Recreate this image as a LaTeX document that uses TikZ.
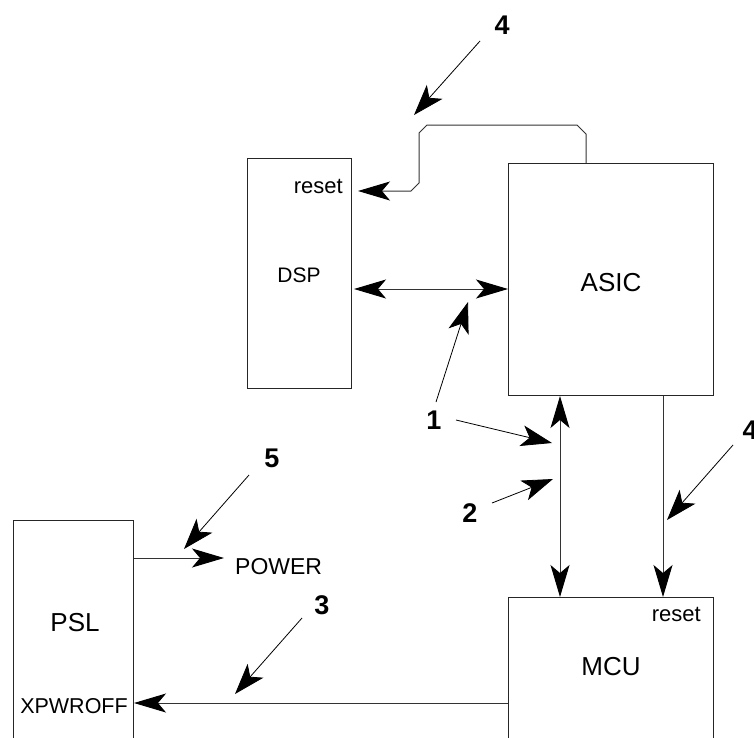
\documentclass[tikz,border=0pt]{standalone}
\usepackage{fontspec}
\setmainfont{Liberation Sans}
\usetikzlibrary{arrows.meta}
\tikzset{
  blk/.style={draw=black!85, line width=1pt, inner sep=0pt, anchor=north west},
  conn/.style={draw=black!80, line width=1pt},
  bigtip/.tip={Stealth[length=32pt,width=19pt,inset=8pt,color=black]},
  ptrtip/.tip={Stealth[length=31pt,width=21pt,inset=8pt,color=black]},
  ptr/.style={draw=black, line width=0.8pt, -ptrtip},
  num/.style={font=\fontsize{27}{27}\selectfont\bfseries, inner sep=0pt},
  lbl/.style={font=\fontsize{26}{26}\selectfont, inner sep=0pt},
  mid/.style={font=\fontsize{22}{22}\selectfont, inner sep=0pt},
}
\begin{document}
\begin{tikzpicture}[x=1pt,y=-1pt]
\clip (0,0) rectangle (754,737);
\fill[white] (0,0) rectangle (754,737);
% boxes
\node[blk, minimum width=104pt, minimum height=230pt] (dsp) at (247,158) {};
\node[blk, minimum width=205pt, minimum height=232pt] (asic) at (508,163) {};
\node[blk, minimum width=205pt, minimum height=180pt] (mcu) at (508,597) {};
\node[blk, minimum width=120pt, minimum height=260pt] (psl) at (13,520) {};
% texts in boxes
\node[mid, font=\fontsize{21}{21}\selectfont] (dsptxt) at (299,275) {DSP};
\node[mid, anchor=base east] (dspreset) at (343,193) {reset};
\node[lbl] (asictxt) at (611,283) {ASIC};
\node[lbl] (mcutxt) at (611,667) {MCU};
\node[mid, anchor=base east] (mcureset) at (701,621) {reset};
\node[lbl] (psltxt) at (75,623) {PSL};
\node[mid, font=\fontsize{21.5}{21.5}\selectfont] (xpw) at (74,706) {XPWROFF};
\node[mid, anchor=west, font=\fontsize{23}{23}\selectfont] (power) at (235,567) {POWER};
% connectors
\coordinate (dspR) at (354,289);
\draw[conn, bigtip-bigtip] (dspR) -- (asic.west |- dspR);
\coordinate (amx) at (560,0);
\draw[conn, bigtip-bigtip] (asic.south -| amx) -- (mcu.north -| amx);
\coordinate (rsx) at (663,0);
\draw[conn, -bigtip] (asic.south -| rsx) -- (mcu.north -| rsx);
\coordinate (topx) at (586,0);
\coordinate (rstend) at (358,191);
\draw[conn, -bigtip] (asic.north -| topx) -- (586,134) -- (577,125) -- (427,125)
  -- (419,133) -- (419,183) -- (411,191) -- (rstend);
\coordinate (pwy) at (0,558);
\coordinate (pwend) at (224,558);
\draw[conn, -bigtip] (psl.east |- pwy) -- (pwend);
\coordinate (xy) at (0,703);
\draw[conn, -bigtip] (mcu.west |- xy) -- (psl.east |- xy);
% labels and pointers
\node[num] (n4a) at (502,25) {4};
\coordinate (p4a) at (414,115);
\draw[ptr] (480,41) -- (p4a);
\node[num] (n1) at (434,420) {1};
\coordinate (p1a) at (468,302);
\coordinate (p1b) at (552,443);
\draw[ptr] (436,402) -- (p1a);
\draw[ptr] (456,420) -- (p1b);
\node[num] (n2) at (470,513) {2};
\coordinate (p2) at (553,479);
\draw[ptr] (492,503) -- (p2);
\node[num] (n4b) at (750,430) {4};
\coordinate (p4b) at (667,520);
\draw[ptr] (733,445) -- (p4b);
\node[num] (n5) at (272,458) {5};
\coordinate (p5) at (184,549);
\draw[ptr] (249,475) -- (p5);
\node[num] (n3) at (322,605) {3};
\coordinate (p3) at (235,694);
\draw[ptr] (302,618) -- (p3);
\end{tikzpicture}
\end{document}
